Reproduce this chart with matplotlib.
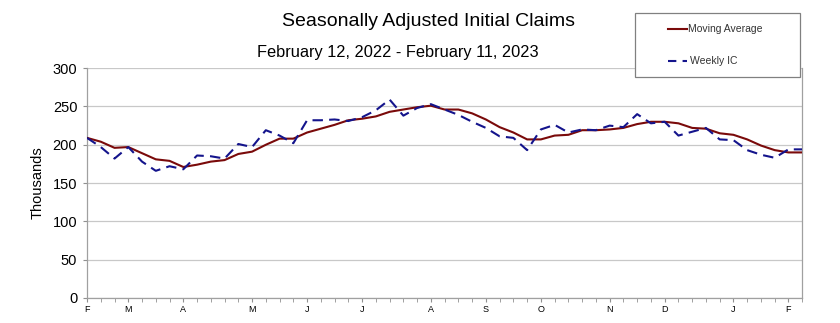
import matplotlib
matplotlib.use("Agg")
import matplotlib.pyplot as plt
from matplotlib.patches import Rectangle
from matplotlib.lines import Line2D
import numpy as np

plt.rcParams['font.family'] = ['Liberation Sans', 'DejaVu Sans']

# weekly values, Feb 12 2022 .. Feb 11 2023 (thousands)
weekly_ic = [209, 197, 182, 197, 178, 166, 172, 168, 186, 185,
             182, 201, 197, 219, 212, 202, 232, 232, 233, 231,
             236, 245, 259, 238, 248, 253, 246, 239, 230, 222,
             211, 209, 193, 220, 226, 216, 220, 219, 225, 223,
             240, 228, 230, 212, 217, 222, 207, 206, 193, 187,
             183, 194, 194]
moving_avg = [209, 204, 196, 197, 189, 181, 179, 171, 174, 178,
              180, 188, 191, 200, 208, 208, 216, 221, 226, 232,
              234, 237, 243, 246, 249, 251, 246, 246, 241, 233,
              223, 216, 207, 207, 212, 213, 219, 219, 220, 222,
              227, 230, 230, 228, 222, 221, 215, 213, 207, 199,
              193, 190, 190]
month_pos = [0, 3, 7, 12, 16, 20, 25, 29, 33, 38, 42, 47, 51]
month_lbl = ['F', 'M', 'A', 'M', 'J', 'J', 'A', 'S', 'O', 'N', 'D', 'J', 'F']

weeks = np.arange(len(weekly_ic))
ma_color = '#7a0a0a'
ic_color = '#14148c'
ic_dash = (0, (5, 3))

fig = plt.figure(figsize=(8.4, 3.23), dpi=100)
ax = fig.add_axes([0.1036, 0.0774, 0.8514, 0.7116])

ax.plot(weeks, moving_avg, color=ma_color, lw=1.5, zorder=3)
ax.plot(weeks, weekly_ic, color=ic_color, lw=1.5, ls=ic_dash, zorder=4)

ax.set_xlim(0, 52)
ax.set_ylim(0, 300)
ax.set_yticks(np.arange(0, 301, 50))
ax.yaxis.grid(True, color='#c8c8c8', lw=0.9)
ax.set_axisbelow(True)

ax.set_xticks(month_pos)
ax.set_xticklabels(month_lbl, fontsize=6.5)
ax.set_xticks(weeks, minor=True)
ax.tick_params(axis='x', which='both', direction='out', length=3, color='#909090', pad=2)
ax.tick_params(axis='y', direction='out', length=3, color='#909090', labelsize=10.5, pad=4)

for s in ['left', 'bottom', 'right']:
    ax.spines[s].set_color('#a0a0a0')
    ax.spines[s].set_linewidth(0.9)
ax.spines['top'].set_visible(False)

ax.set_ylabel('Thousands', fontsize=10.5, labelpad=6)

fig.text(0.51, 0.932, 'Seasonally Adjusted Initial Claims', ha='center', va='center', fontsize=14)
fig.text(0.473, 0.838, 'February 12, 2022 - February 11, 2023', ha='center', va='center', fontsize=11.8)

# legend box drawn by hand (wide frame, entries offset to the right)
fig.add_artist(Rectangle((0.756, 0.762), 0.196, 0.198, transform=fig.transFigure,
                         facecolor='white', edgecolor='#808080', lw=0.9, zorder=10))
fig.add_artist(Line2D([0.795, 0.818], [0.910, 0.910], transform=fig.transFigure,
                      color=ma_color, lw=1.5, zorder=11))
fig.add_artist(Line2D([0.795, 0.818], [0.811, 0.811], transform=fig.transFigure,
                      color=ic_color, lw=1.5, ls=(0, (4, 3)), zorder=11))
fig.text(0.819, 0.910, 'Moving Average', fontsize=7.5, va='center', color='#333333', zorder=12)
fig.text(0.821, 0.811, 'Weekly IC', fontsize=7.5, va='center', color='#333333', zorder=12)

fig.savefig('out.png', dpi=100)
